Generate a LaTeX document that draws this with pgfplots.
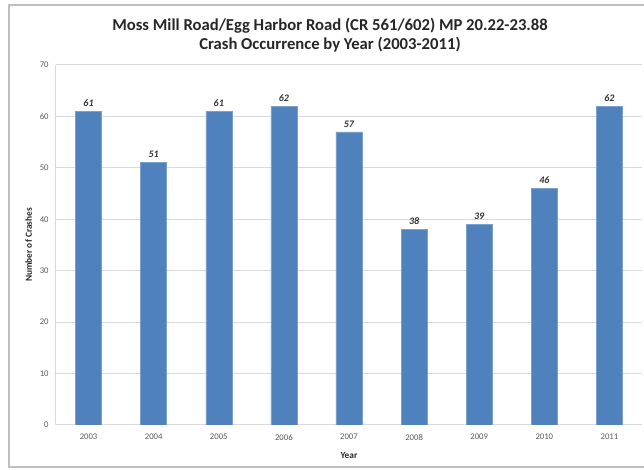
\documentclass[border=0pt]{standalone}
\usepackage{fontspec}
\setmainfont{Carlito}
\usepackage{pgfplots}
\pgfplotsset{compat=1.18}

\definecolor{barblue}{HTML}{4F81BD}
\definecolor{gridgray}{HTML}{D9D9D9}
\definecolor{ticktxt}{HTML}{595959}
\definecolor{framegray}{HTML}{BFBFBF}

\begin{document}
\begin{tikzpicture}[x=0.75pt,y=0.75pt]
\useasboundingbox (0,0) rectangle (644,470);
\clip (0,0) rectangle (644,470);
\draw[framegray, line width=0.9pt] (9,3) rectangle (660,465);
\node[font=\bfseries\fontsize{12.5}{14.25}\selectfont, text=black!85, align=center]
  at (330,434.5) {Moss Mill Road/Egg Harbor Road (CR 561/602) MP 20.22-23.88\\Crash Occurrence by Year (2003-2011)};
\begin{axis}[
  at={(42pt,33.75pt)}, anchor=south west,
  width=439.5pt, height=270pt, scale only axis,
  ybar, bar width=19.5pt,
  xmin=-0.5, xmax=8.5, ymin=0, ymax=70,
  ytick={0,10,...,70},
  xtick=data,
  xticklabels={2003,2004,2005,2006,2007,2008,2009,2010,2011},
  axis x line*=bottom, axis y line*=left,
  axis line style={gridgray, line width=0.75pt, -},
  major tick length=0pt,
  ymajorgrids, grid style={gridgray, line width=0.75pt},
  /pgf/number format/assume math mode=true,
  tick label style={font=\fontsize{6.5}{7}\selectfont, text=ticktxt},
  yticklabel style={xshift=-2pt},
  xticklabel style={yshift=-3.5pt},
  xlabel={Year}, ylabel={Number of Crashes},
  label style={font=\bfseries\fontsize{7}{8}\selectfont, text=black!85},
  xlabel style={yshift=-2pt},
  ylabel style={yshift=-1pt},
  nodes near coords,
  nodes near coords style={font=\bfseries\itshape\fontsize{7.5}{8}\selectfont, text=black!80},
]
\addplot[fill=barblue, draw=barblue!75!white, line width=0.4pt]
  coordinates {(0,61)(1,51)(2,61)(3,62)(4,57)(5,38)(6,39)(7,46)(8,62)};
\end{axis}
\end{tikzpicture}
\end{document}
